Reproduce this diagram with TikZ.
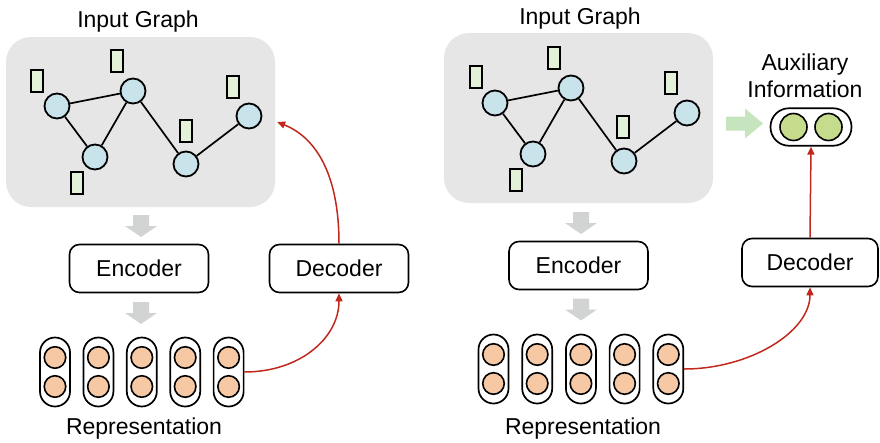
\documentclass[tikz,border=0pt]{standalone}
\usepackage{fontspec}
\setmainfont{Liberation Sans}
\usetikzlibrary{arrows.meta}
\definecolor{boxgray}{HTML}{E6E6E6}
\definecolor{arrgray}{HTML}{D2D3D3}
\definecolor{nodeblue}{HTML}{C8E3EA}
\definecolor{featgreen}{HTML}{E3F1D8}
\definecolor{orangec}{HTML}{F6C8A4}
\definecolor{greenc}{HTML}{C5DC8C}
\definecolor{greenarr}{HTML}{C6E4BE}
\definecolor{redc}{HTML}{C2271D}
\begin{document}
\begin{tikzpicture}[x=1pt,y=-1pt,font=\fontsize{23}{27}\selectfont,
  gbox/.style={fill=boxgray,rounded corners=25pt,minimum width=269pt,minimum height=170pt,inner sep=0},
  gnode/.style={circle,draw,line width=1.8pt,fill=nodeblue,minimum size=25pt,inner sep=0},
  feat/.style={rectangle,draw,line width=1.8pt,fill=featgreen,minimum width=12pt,minimum height=22pt,inner sep=0},
  gedge/.style={line width=1.7pt},
  module/.style={draw,line width=1.6pt,rounded corners=10pt,minimum width=139pt,minimum height=48pt,fill=white,inner sep=0},
  pill/.style={draw,line width=1.7pt,rounded corners=15pt,minimum width=30pt,minimum height=69pt,inner sep=0},
  rcirc/.style={circle,draw,line width=1.6pt,fill=orangec,minimum size=21.5pt,inner sep=0},
  acirc/.style={circle,draw,line width=1.6pt,fill=greenc,minimum size=27pt,inner sep=0},
  redarr/.style={draw=redc,line width=1.5pt,-{Triangle[length=8pt,width=7pt]}},
  downarr/.pic={\fill[arrgray] (-8,-11) -- (8,-11) -- (8,0) -- (16,0) -- (0,11) -- (-16,0) -- (-8,0) -- cycle;}
]
\useasboundingbox (0,0) rectangle (880,442);

% ---------------- Left panel ----------------
\node[anchor=base] (t1) at (138,27) {Input Graph};
\node[gbox] (g1) at (140.5,122) {};
\node[gnode] (a1) at (57,106) {};
\node[gnode] (a2) at (133,91) {};
\node[gnode] (a3) at (95,157) {};
\node[gnode] (a4) at (186,164) {};
\node[gnode] (a5) at (249,116) {};
\draw[gedge] (a1) -- (a2) (a1) -- (a3) (a3) -- (a2) (a2) -- (a4) (a4) -- (a5);
\node[feat] (fa1) at (37,81) {};
\node[feat] (fa2) at (117,61) {};
\node[feat] (fa3) at (233,87) {};
\node[feat] (fa4) at (186,131) {};
\node[feat] (fa5) at (77,183) {};

\pic at (141,226) {downarr};
\node[module] (enc1) at (139,268.5) {Encoder};
\pic at (141,313) {downarr};
\node[module] (dec1) at (339,268.5) {Decoder};

\foreach \i/\x in {1/55,2/98.4,3/141.8,4/185.2,5/228.6}{
  \node[pill] (p\i) at (\x,372) {};
  \node[rcirc] (pu\i) at (\x,357.5) {};
  \node[rcirc] (pd\i) at (\x,386.5) {};
}
\node[anchor=base] (r1) at (144,434) {Representation};

\draw[redarr] (p5.east) .. controls +(55,0) and +(0,45) .. (dec1.south);
\draw[redarr] (dec1.north) .. controls +(0,-75) and +(35,14) .. ([xshift=2pt]g1.east);

% ---------------- Right panel ----------------
\node[anchor=base] (t2) at (580,24) {Input Graph};
\node[gbox] (g2) at (578.5,118) {};
\node[gnode] (b1) at (495,103) {};
\node[gnode] (b2) at (571,88) {};
\node[gnode] (b3) at (533,154) {};
\node[gnode] (b4) at (624,161) {};
\node[gnode] (b5) at (687,113) {};
\draw[gedge] (b1) -- (b2) (b1) -- (b3) (b3) -- (b2) (b2) -- (b4) (b4) -- (b5);
\node[feat] (fb1) at (476,77) {};
\node[feat] (fb2) at (554,58) {};
\node[feat] (fb3) at (671,83) {};
\node[feat] (fb4) at (623,127) {};
\node[feat] (fb5) at (516,180) {};

\fill[greenarr] (726,116.5) -- (745,116.5) -- (745,108.5) -- (763,123.5) -- (745,138.5) -- (745,130.5) -- (726,130.5) -- cycle;

\node[anchor=base] (aux) at (805,70) {Auxiliary};
\node[anchor=base] (inf) at (805,97) {Information};
\node[draw,line width=1.7pt,rounded corners=18.5pt,minimum width=81pt,minimum height=37.5pt,inner sep=0] (ap) at (811,127) {};
\node[acirc] (ac1) at (793.5,127) {};
\node[acirc] (ac2) at (828.5,127) {};

\pic at (581,223) {downarr};
\node[module] (enc2) at (578.5,265.5) {Encoder};
\pic at (581,309.5) {downarr};
\node[module,minimum width=136pt] (dec2) at (810,262.5) {Decoder};

\foreach \i/\x in {6/493.5,7/537.2,8/580.9,9/624.6,10/668.3}{
  \node[pill] (p\i) at (\x,369) {};
  \node[rcirc] (pu\i) at (\x,354.5) {};
  \node[rcirc] (pd\i) at (\x,383.5) {};
}
\node[anchor=base] (r2) at (583,434) {Representation};

\draw[redarr] (p10.east) .. controls +(65,0) and +(0,45) .. (dec2.south);
\draw[redarr] (dec2.north) -- (ap.south);
\end{tikzpicture}
\end{document}
